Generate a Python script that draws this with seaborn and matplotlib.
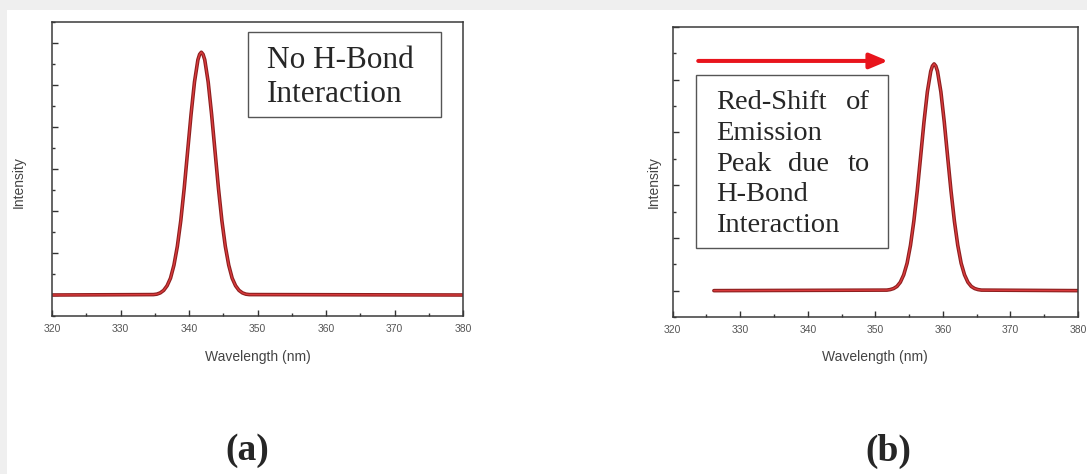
import matplotlib
matplotlib.use("Agg")
import matplotlib.pyplot as plt
import seaborn as sns
import pandas as pd
from matplotlib.ticker import MultipleLocator
from matplotlib.patches import Rectangle, FancyArrowPatch

# emission spectra
wavelength_a = [320.0, 334.8, 335.3, 335.8, 336.3, 336.8, 337.3, 337.8, 338.3, 338.8,
                339.3, 339.8, 340.3, 340.8, 341.3, 341.55, 341.8, 342.05, 342.3, 342.8,
                343.3, 343.8, 344.3, 344.8, 345.3, 345.8, 346.3, 346.8, 347.3, 347.8,
                348.3, 348.8, 380.0]
intensity_a = [0.0, 0.01, 0.02, 0.05, 0.11, 0.22, 0.40, 0.71, 1.16, 1.77,
               2.54, 3.42, 4.30, 5.07, 5.60, 5.73, 5.78, 5.73, 5.60, 5.07,
               4.30, 3.42, 2.54, 1.77, 1.16, 0.71, 0.40, 0.22, 0.11, 0.05,
               0.02, 0.01, 0.0]

wavelength_b = [326.1, 351.7, 352.2, 352.7, 353.2, 353.7, 354.2, 354.7, 355.2, 355.7,
                356.2, 356.7, 357.2, 357.7, 358.2, 358.45, 358.7, 358.95, 359.2, 359.7,
                360.2, 360.7, 361.2, 361.7, 362.2, 362.7, 363.2, 363.7, 364.2, 364.7,
                365.2, 365.7, 380.0]
intensity_b = [0.0, 0.01, 0.02, 0.04, 0.08, 0.16, 0.30, 0.52, 0.86, 1.32,
               1.89, 2.54, 3.20, 3.77, 4.16, 4.26, 4.30, 4.26, 4.16, 3.77,
               3.20, 2.54, 1.89, 1.32, 0.86, 0.52, 0.30, 0.16, 0.08, 0.04,
               0.02, 0.01, 0.0]

x_ticks = [320, 330, 340, 350, 360, 370, 380]

sns.set_style("ticks")
plt.rcParams["font.family"] = ["Liberation Sans", "DejaVu Sans"]

fig = plt.figure(figsize=(10.87, 4.74), dpi=100)
# light grey screenshot margins
fig.add_artist(Rectangle((0, 1 - 10 / 474), 1, 10 / 474, transform=fig.transFigure,
                         color="#efefef", lw=0, zorder=0))
fig.add_artist(Rectangle((0, 0), 7 / 1087, 1, transform=fig.transFigure,
                         color="#efefef", lw=0, zorder=0))

ax_a = fig.add_axes([52 / 1087, 1 - 316 / 474, 411 / 1087, 294 / 474])
ax_b = fig.add_axes([672.7 / 1087, 1 - 317 / 474, 405.3 / 1087, 290 / 474])


def draw_spectrum(ax, wl, inten, ymax, ylab_x, ylab_y):
    df = pd.DataFrame({"Wavelength (nm)": wl, "Intensity": inten})
    sns.lineplot(data=df, x="Wavelength (nm)", y="Intensity", ax=ax,
                 color="#8e1f1f", lw=2.6, sort=False)
    sns.lineplot(data=df, x="Wavelength (nm)", y="Intensity", ax=ax,
                 color="#d93a3c", lw=1.0, sort=False)
    ax.set_xlim(320, 380)
    ax.set_ylim(-0.5, ymax)
    ax.set_xticks(x_ticks)
    ax.xaxis.set_minor_locator(MultipleLocator(5))
    ax.yaxis.set_major_locator(MultipleLocator(1))
    ax.yaxis.set_minor_locator(MultipleLocator(0.5))
    ax.set_yticklabels([])
    ax.tick_params(axis="both", which="both", direction="in", color="#333333",
                   width=1.0, top=False, right=False)
    ax.tick_params(axis="both", which="major", length=4.5)
    ax.tick_params(axis="both", which="minor", length=2.5)
    ax.tick_params(axis="x", labelsize=7.5, labelcolor="#555555", pad=6)
    for s in ax.spines.values():
        s.set_visible(True)
        s.set_color("#3a3a3a")
        s.set_linewidth(1.1)
    ax.set_xlabel("Wavelength (nm)", fontsize=10, color="#444444", va="center")
    ax.xaxis.set_label_coords(0.5, -0.139)
    ax.set_ylabel("Intensity", fontsize=10, color="#444444", va="center")
    ax.yaxis.set_label_coords(ylab_x, ylab_y)


draw_spectrum(ax_a, wavelength_a, intensity_a, 6.5, -0.080, 0.456)
draw_spectrum(ax_b, wavelength_b, intensity_b, 5.0, -0.046, 0.466)

serif = ["Liberation Serif", "DejaVu Serif"]

# panel (a) annotation box
ax_a.add_patch(Rectangle((0.477, 0.677), 0.469, 0.289, transform=ax_a.transAxes,
                         fill=False, ec="#555555", lw=1.0, zorder=3))
ax_a.text(0.523, 0.8435, "No H-Bond", transform=ax_a.transAxes, va="baseline",
          fontsize=22.5, family=serif)
ax_a.text(0.523, 0.728, "Interaction", transform=ax_a.transAxes, va="baseline",
          fontsize=22.5, family=serif)

# panel (b) annotation box + arrow
ax_b.add_patch(Rectangle((0.0575, 0.238), 0.4735, 0.596, transform=ax_b.transAxes,
                         fill=False, ec="#555555", lw=1.0, zorder=3))
arrow = FancyArrowPatch((0.063, 0.883), (0.531, 0.883), transform=ax_b.transAxes,
                        arrowstyle="-|>,head_length=1.0,head_width=0.42",
                        mutation_scale=11, lw=2.9, color="#e8141c",
                        shrinkA=0, shrinkB=0)
ax_b.add_patch(arrow)

left, right, mid = 0.107, 0.487, 0.334
fs_b = 20.5
lines_b = [
    (0.717, [("Red-Shift", left, "left"), ("of", right, "right")]),
    (0.610, [("Emission", left, "left")]),
    (0.505, [("Peak", left, "left"), ("due", mid, "center"), ("to", right, "right")]),
    (0.400, [("H-Bond", left, "left")]),
    (0.293, [("Interaction", left, "left")]),
]
for y, words in lines_b:
    for w, x, ha in words:
        ax_b.text(x, y, w, transform=ax_b.transAxes, ha=ha, va="baseline",
                  fontsize=fs_b, family=serif)

# panel letters
fig.text(247 / 1087, 1 - 451 / 474, "(a)", ha="center", va="center",
         fontsize=27, fontweight="bold", family=serif)
fig.text(888 / 1087, 1 - 451 / 474, "(b)", ha="center", va="center",
         fontsize=27, fontweight="bold", family=serif)

fig.savefig("out.png", dpi=100)
